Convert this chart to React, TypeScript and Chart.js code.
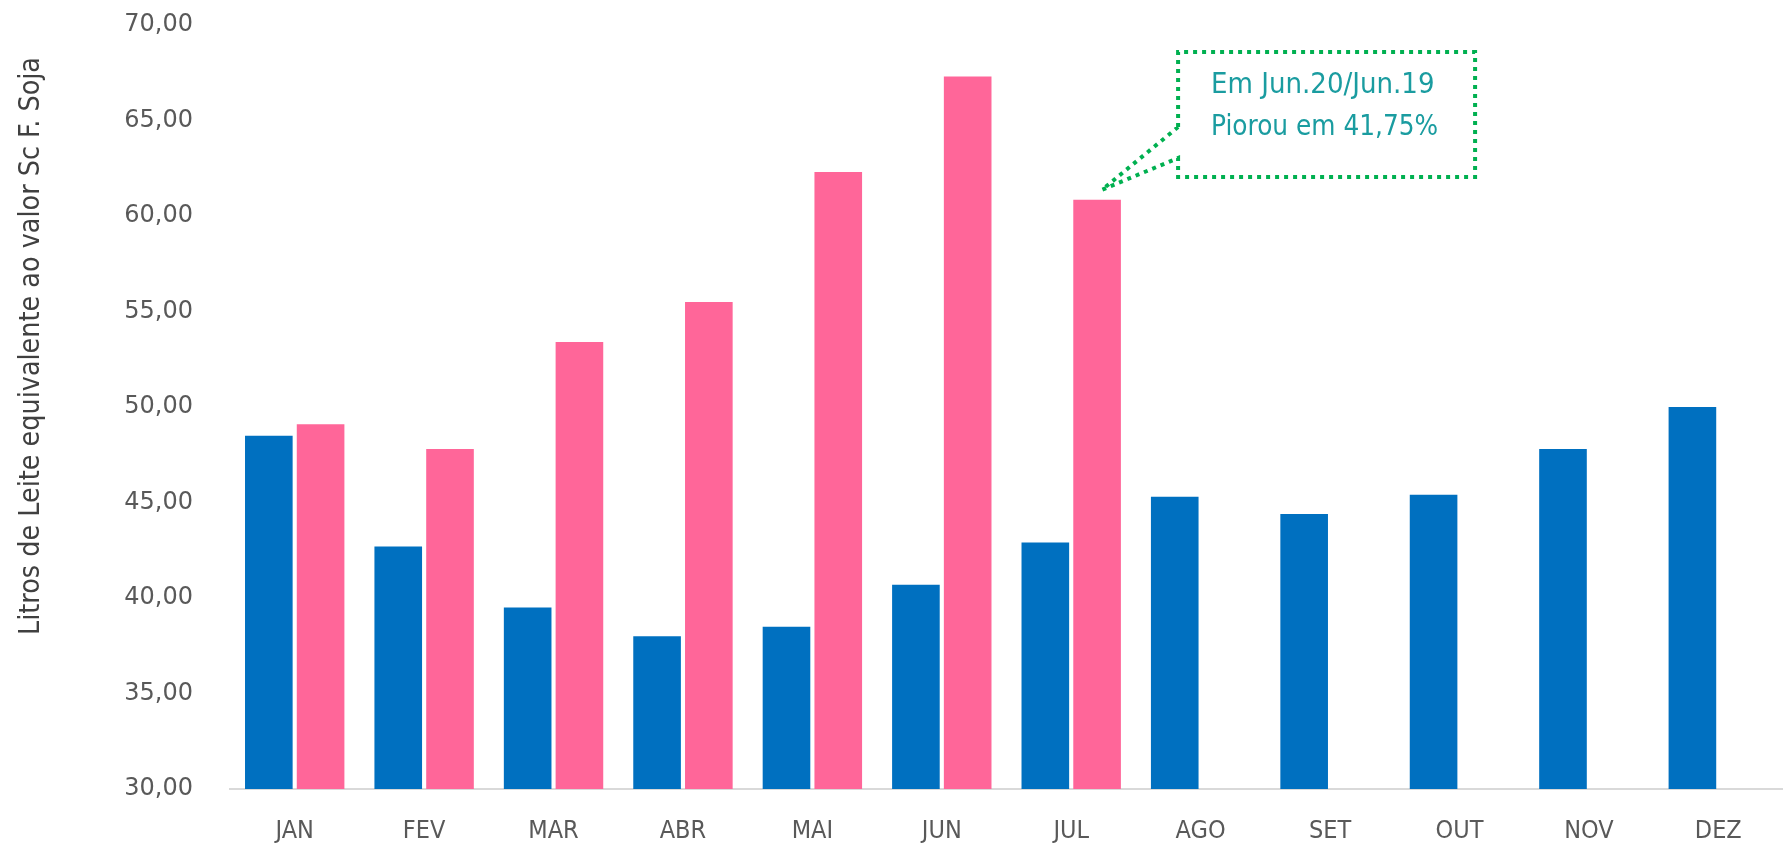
import React, { useEffect, useRef } from "react";
import { Chart, registerables } from "chart.js";

Chart.register(...registerables);

const months = ["JAN", "FEV", "MAR", "ABR", "MAI", "JUN", "JUL", "AGO", "SET", "OUT", "NOV", "DEZ"];
const series2019 = [48.5, 42.7, 39.5, 38.0, 38.5, 40.7, 42.9, 45.3, 44.4, 45.4, 47.8, 50.0];
const series2020 = [49.1, 47.8, 53.4, 55.5, 62.3, 67.3, 60.85, null, null, null, null, null];
const yTitle = "Litros de Leite equivalente ao valor Sc F. Soja";
const calloutLines = ["Em Jun.20/Jun.19", "Piorou em 41,75%"];
const calloutIndex = 6;

const BLUE = "#0070C0";
const PINK = "#FF6699";

const overlayPlugin = {
  id: "overlay",
  afterDraw(chart: any) {
    const ctx = chart.ctx;
    const area = chart.chartArea;
    // y-axis title
    ctx.save();
    ctx.translate(31, 346);
    ctx.rotate(-Math.PI / 2);
    ctx.fillStyle = "#404040";
    ctx.font = "29px 'DejaVu Sans Condensed', 'DejaVu Sans'";
    ctx.textAlign = "center";
    ctx.textBaseline = "middle";
    ctx.fillText(yTitle, 0, 0, 578);
    ctx.restore();

    // callout
    const meta = chart.getDatasetMeta(1);
    const el = meta.data[calloutIndex];
    if (!el) return;
    const tipX = el.x + 5;
    const tipY = el.y - 10;
    const left = tipX + 76;
    const top = area.top + 27;
    const right = left + 297;
    const bottom = top + 125;
    const a1 = top + 75;
    const a2 = top + 106;
    ctx.save();
    ctx.strokeStyle = "#00B050";
    ctx.lineWidth = 4;
    ctx.setLineDash([4, 5]);
    ctx.beginPath();
    ctx.moveTo(left, a1);
    ctx.lineTo(left, top);
    ctx.lineTo(right, top);
    ctx.lineTo(right, bottom);
    ctx.lineTo(left, bottom);
    ctx.lineTo(left, a2);
    ctx.lineTo(tipX, tipY);
    ctx.lineTo(left, a1);
    ctx.stroke();
    ctx.setLineDash([]);
    ctx.fillStyle = "#1A9CA0";
    ctx.font = "29px 'DejaVu Sans Condensed', 'DejaVu Sans'";
    ctx.textAlign = "left";
    ctx.textBaseline = "middle";
    ctx.fillText(calloutLines[0], left + 33, top + 33, 227);
    ctx.fillText(calloutLines[1], left + 33, top + 75, 227);
    ctx.restore();
  },
};

export default function App() {
  const ref = useRef<HTMLCanvasElement | null>(null);
  useEffect(() => {
    if (!ref.current) return;
    const chart = new Chart(ref.current, {
      type: "bar",
      data: {
        labels: months,
        datasets: [
          { label: "2019", data: series2019, backgroundColor: BLUE, borderWidth: 0 },
          { label: "2020", data: series2020 as any, backgroundColor: PINK, borderWidth: 0 },
        ],
      },
      options: {
        animation: false,
        responsive: false,
        maintainAspectRatio: false,
        layout: { padding: { top: 25, right: 0, left: 0, bottom: 0 } },
        datasets: { bar: { categoryPercentage: 0.8, barPercentage: 0.92 } },
        plugins: { legend: { display: false }, tooltip: { enabled: false } },
        scales: {
          x: {
            grid: { display: false, drawTicks: false },
            border: { display: true, color: "#D9D9D9", width: 2 },
            ticks: {
              color: "#595959",
              font: { family: "'DejaVu Sans Condensed', 'DejaVu Sans'", size: 25 },
              padding: 27,
              maxRotation: 0,
            },
            afterFit: (s: any) => { s.height = 55; s.paddingLeft = 0; s.paddingRight = 0; },
          },
          y: {
            min: 30,
            max: 70,
            grid: { display: false, drawTicks: false },
            border: { display: false },
            ticks: {
              stepSize: 5,
              color: "#595959",
              font: { family: "'DejaVu Sans', sans-serif", size: 24 },
              padding: 37,
              callback: (v: any) => Number(v).toFixed(2).replace(".", ","),
            },
            afterFit: (s: any) => { s.width = 230; s.paddingTop = 0; s.paddingBottom = 0; },
          },
        },
      },
      plugins: [overlayPlugin],
    });
    return () => chart.destroy();
  }, []);
  return (
    <div style={{ position: "fixed", left: 0, top: 0, width: 1783, height: 844, background: "#fff" }}>
      <canvas ref={ref} width={1783} height={844} style={{ width: 1783, height: 844 }} />
    </div>
  );
}
